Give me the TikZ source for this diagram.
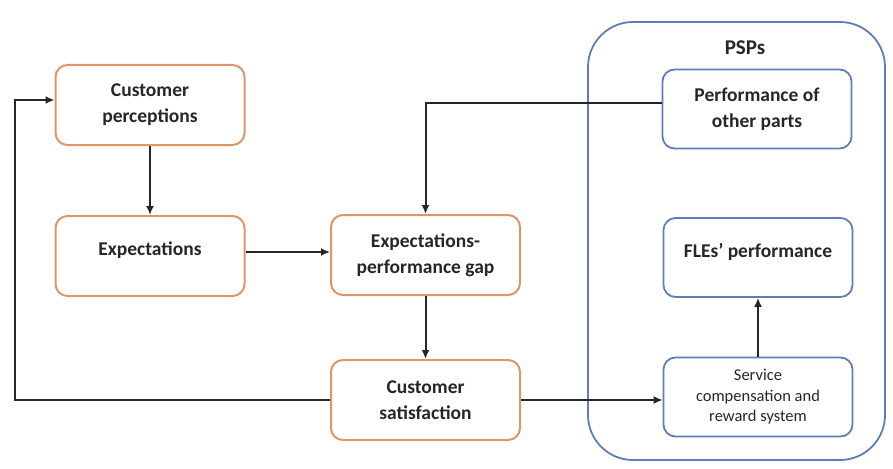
\documentclass[tikz,border=0pt]{standalone}
\usepackage{fontspec}
\setmainfont{Carlito}
\usetikzlibrary{arrows.meta}
\definecolor{orng}{RGB}{222,150,105}
\definecolor{blu}{RGB}{95,125,185}
\begin{document}
\begin{tikzpicture}[x=1pt,y=-1pt,
  obox/.style={draw=orng,line width=2pt,rounded corners=12pt,minimum width=189pt,minimum height=80pt,align=center,font=\fontsize{19.5}{26}\selectfont\bfseries,text=black!85},
  bbox/.style={draw=blu,line width=1.8pt,rounded corners=12pt,minimum width=189pt,minimum height=79pt,align=center,font=\fontsize{19.5}{26}\selectfont\bfseries,text=black!85},
  arr/.style={line width=2pt,-{Latex[length=9pt,width=8pt]},black!85}]
\useasboundingbox (0,0) rectangle (893,468);
\node[draw=blu,line width=1.8pt,rounded corners=45pt,minimum width=297pt,minimum height=438pt] (psp) at (736.5,241) {};
\node[font=\fontsize{21}{26}\selectfont\bfseries,text=black!85] (title) at (745,48) {PSPs};
\node[obox] (perc) at (150,105) {Customer\\perceptions};
\node[obox,text depth=14pt] (exp) at (150,256) {Expectations};
\node[obox] (gap) at (425.5,255) {Expectations-\\performance gap};
\node[obox] (sat) at (425.5,400) {Customer\\satisfaction};
\node[bbox] (perf) at (757,109) {Performance of\\other parts};
\node[bbox,text depth=14pt] (fle) at (758,257.5) {FLEs' performance};
\node[bbox,font=\fontsize{16.5}{20.5}\selectfont] (svc) at (758,397) {Service\\compensation and\\reward system};
\coordinate (L) at (15,400);
\draw[arr] (perc.south) -- (perc.south |- exp.north);
\draw[arr] (exp.east |- 0,252) -- (gap.west |- 0,252);
\draw[arr] (perf.west |- 0,103) -| (gap.north);
\draw[arr] (gap.south) -- (gap.south |- sat.north);
\draw[arr] (sat.west) -- (L) |- (perc.west |- 0,100);
\draw[arr] (sat.east) -- (svc.west |- sat.east);
\draw[arr] (svc.north) -- (svc.north |- fle.south);
\end{tikzpicture}
\end{document}
